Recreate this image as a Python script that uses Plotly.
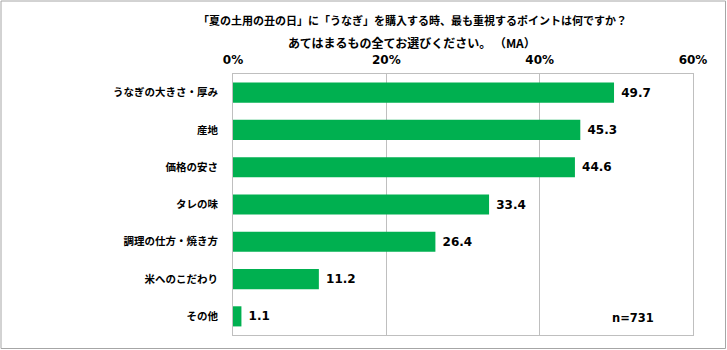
import plotly.graph_objects as go

categories = ["うなぎの大きさ・厚み", "産地", "価格の安さ", "タレの味", "調理の仕方・焼き方", "米へのこだわり", "その他"]
values = [49.7, 45.3, 44.6, 33.4, 26.4, 11.2, 1.1]
tick_vals = [0, 20, 40, 60]
tick_text = ["0%", "20%", "40%", "60%"]
title_lines = ["「夏の土用の丑の日」に「うなぎ」を購入する時、最も重視するポイントは何ですか？",
               "あてはまるもの全てお選びください。 （MA）"]
note = "n=731"

W, H = 727, 350
L, R, T, B = 233, 34, 74, 15
pw, ph = W - L - R, H - T - B

def px(x):
    return (x - L) / pw

def py(y):
    return (H - B - y) / ph

FONT = "Noto Sans CJK JP"
NUM = "DejaVu Sans"

fig = go.Figure(go.Bar(
    x=values, y=categories, orientation="h",
    marker=dict(color="#00B050", line=dict(width=0)),
    texttemplate="<b>\u00a0%{x:.1f}</b>", textposition="outside",
    textfont=dict(family=NUM, size=12, color="#000000"),
    cliponaxis=False, width=0.54,
))

fig.update_layout(
    width=W, height=H,
    margin=dict(l=L, r=R, t=T, b=B),
    paper_bgcolor="white", plot_bgcolor="white",
    showlegend=False,
    font=dict(family=FONT, color="#000000"),
    xaxis=dict(
        side="top", range=[0, 60], tickvals=tick_vals, ticktext=[f"<b>{t}</b>" for t in tick_text],
        showgrid=True, gridcolor="#BFBFBF", gridwidth=1,
        showline=True, linecolor="#BFBFBF", linewidth=1, mirror=True,
        ticks="", tickfont=dict(family=NUM, size=12, color="#000000"),
        zeroline=False, ticklabelstandoff=4,
    ),
    yaxis=dict(
        autorange="reversed", ticks="",
        tickvals=categories, ticktext=[f"<b>{c}</b>" for c in categories],
        tickfont=dict(family=FONT, size=10.5, color="#000000"),
        showline=True, linecolor="#BFBFBF", linewidth=1, mirror=True,
        showgrid=False, ticklabelstandoff=12,
    ),
    annotations=[
        dict(text=f"<b>{title_lines[0]}</b>", x=px(412), y=py(20), xref="paper", yref="paper",
             showarrow=False, font=dict(family=FONT, size=11), xanchor="center", yanchor="middle"),
        dict(text=f"<b>{title_lines[1]}</b>", x=px(412), y=py(42), xref="paper", yref="paper",
             showarrow=False, font=dict(family=FONT, size=12), xanchor="center", yanchor="middle"),
        dict(text=f"<b>{note}</b>", x=px(633), y=py(318), xref="paper", yref="paper",
             showarrow=False, font=dict(family=NUM, size=11.5), xanchor="center", yanchor="middle"),
    ],
    shapes=[
        dict(type="rect", xref="paper", yref="paper",
             x0=px(1), x1=px(725.5), y0=py(348.5), y1=py(1),
             line=dict(color="#A6A6A6", width=1), fillcolor="rgba(0,0,0,0)", layer="below"),
    ],
)

fig.write_html("out.html")
